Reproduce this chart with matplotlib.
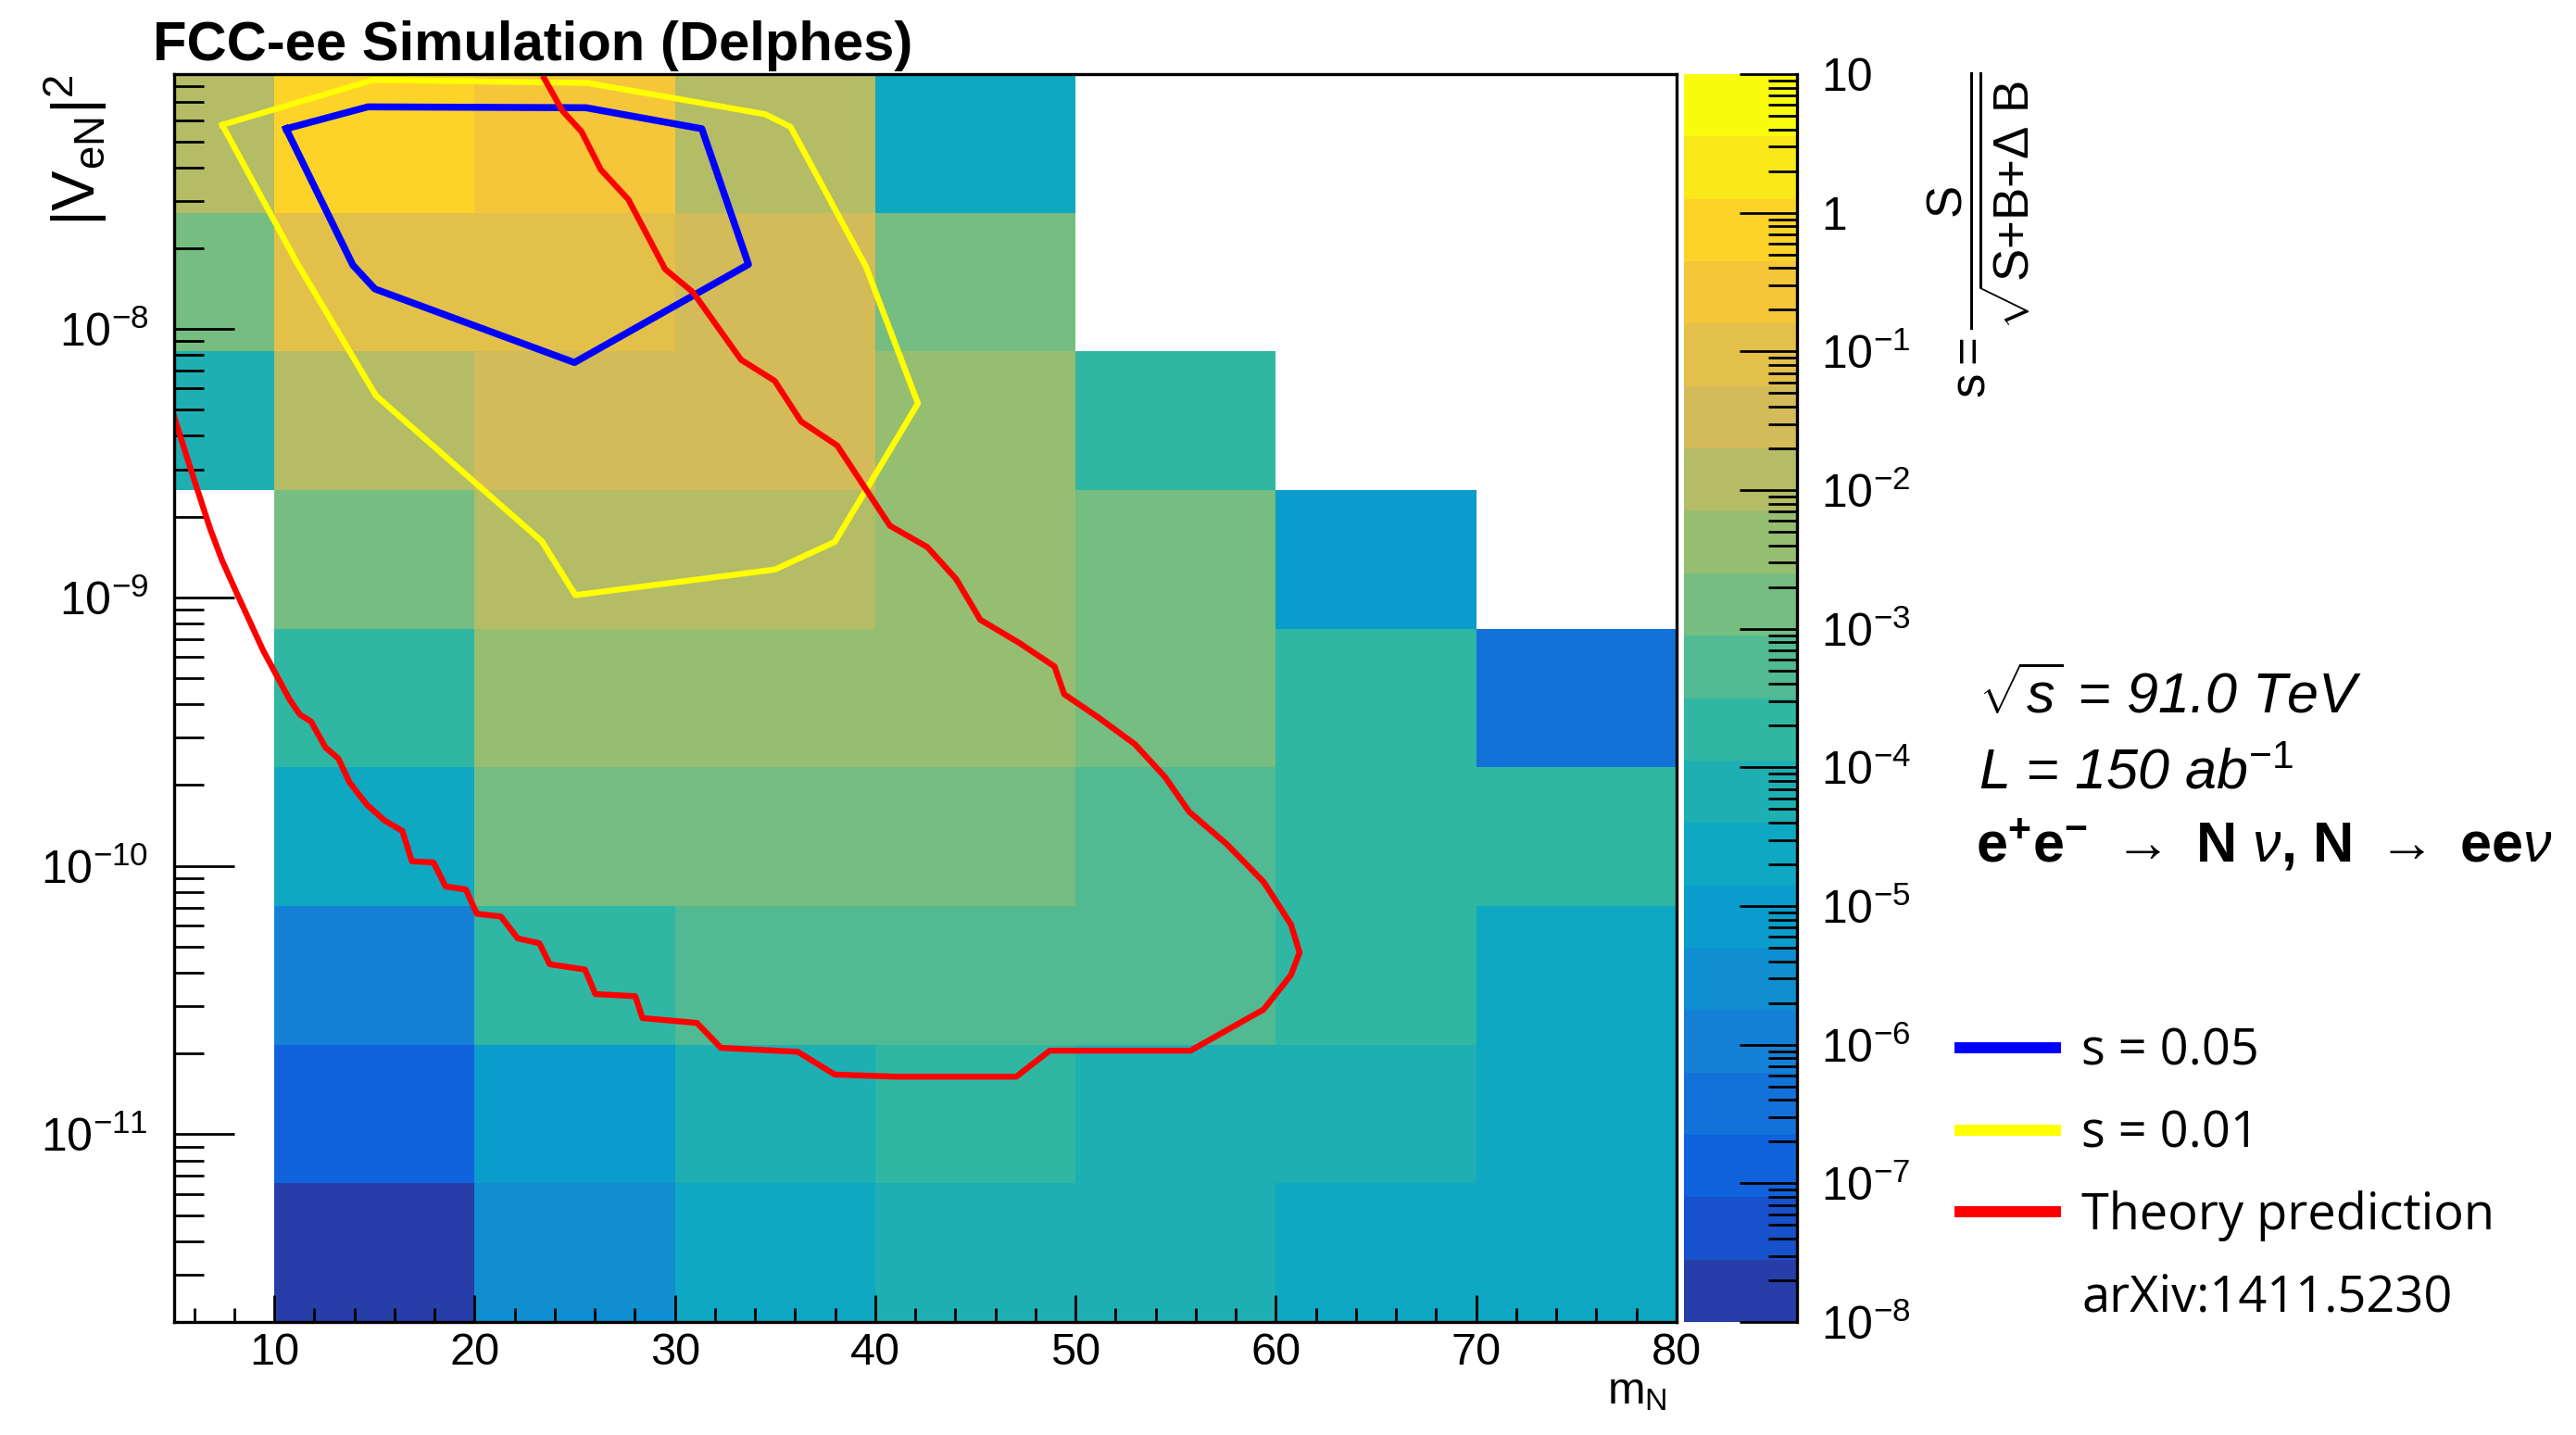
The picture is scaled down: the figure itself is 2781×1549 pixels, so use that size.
import matplotlib.pyplot as plt
import numpy as np
from matplotlib.colors import LinearSegmentedColormap, ListedColormap, LogNorm
from matplotlib.lines import Line2D
from matplotlib.ticker import FuncFormatter, NullFormatter

# Mass bins (GeV) and the |V_eN|^2 binning
mass_edges = [5, 10, 20, 30, 40, 50, 60, 70, 80]
v2_min, v2_max = 2e-12, 8.9e-8
n_v2_bins = 9

# Significance per bin, first row = highest |V_eN|^2 bin, nan = empty bin
significance = [
    [1.2e-2, 0.75,   0.27,   1.2e-2, 2.4e-5, np.nan, np.nan, np.nan],
    [1.5e-3, 9.4e-2, 9.4e-2, 3.3e-2, 1.5e-3, np.nan, np.nan, np.nan],
    [6.7e-5, 1.2e-2, 3.3e-2, 3.3e-2, 4.2e-3, 1.9e-4, np.nan, np.nan],
    [np.nan, 1.5e-3, 1.2e-2, 1.2e-2, 4.2e-3, 1.5e-3, 8.4e-6, np.nan],
    [np.nan, 1.9e-4, 4.2e-3, 4.2e-3, 4.2e-3, 1.5e-3, 1.9e-4, 3.8e-7],
    [np.nan, 2.4e-5, 1.5e-3, 1.5e-3, 1.5e-3, 5.3e-4, 1.9e-4, 1.9e-4],
    [np.nan, 1.1e-6, 1.9e-4, 5.3e-4, 5.3e-4, 5.3e-4, 1.9e-4, 2.4e-5],
    [np.nan, 1.3e-7, 8.4e-6, 6.7e-5, 1.9e-4, 6.7e-5, 6.7e-5, 2.4e-5],
    [np.nan, 1.7e-8, 3.0e-6, 2.4e-5, 6.7e-5, 6.7e-5, 2.4e-5, 2.4e-5],
]

# s = 0.05 contour
blue_mass = [10.59, 14.67, 25.56, 31.34, 33.67, 24.98, 15.02, 13.92, 10.59]
blue_v2 = [5.57e-8, 6.72e-8, 6.67e-8, 5.57e-8, 1.74e-8, 7.50e-9, 1.41e-8, 1.73e-8, 5.57e-8]

# s = 0.01 contour
yellow_mass = [7.40, 14.95, 25.63, 34.50, 35.77, 39.53, 42.13, 37.98, 34.98,
               25.03, 23.35, 15.07, 11.12, 7.40]
yellow_v2 = [5.76e-8, 8.47e-8, 8.25e-8, 6.31e-8, 5.66e-8, 1.71e-8, 5.28e-9, 1.61e-9,
             1.27e-9, 1.02e-9, 1.62e-9, 5.65e-9, 1.77e-8, 5.76e-8]

# theory prediction, arXiv:1411.5230
theory_mass = [5.00, 5.96, 6.80, 7.40, 8.12, 9.44, 10.76, 11.28, 11.83, 12.56, 13.20,
               13.75, 14.59, 15.48, 16.39, 16.87, 17.95, 18.55, 19.56, 20.11, 21.31,
               22.15, 23.23, 23.75, 25.51, 26.03, 28.02, 28.38, 31.10, 32.29, 36.13,
               37.98, 40.98, 47.04, 48.71, 55.74, 57.66, 59.39, 60.75, 61.18, 60.75,
               59.39, 57.52, 55.67, 54.47, 52.96, 51.12, 49.43, 48.95, 47.16, 45.24,
               44.04, 42.60, 40.73, 38.10, 36.30, 34.98, 33.30, 30.90, 29.51, 27.67,
               26.30, 25.34, 24.38, 23.47]
theory_v2 = [4.71e-9, 2.80e-9, 1.80e-9, 1.37e-9, 1.04e-9, 6.35e-10, 4.17e-10, 3.66e-10,
             3.45e-10, 2.76e-10, 2.51e-10, 2.05e-10, 1.70e-10, 1.48e-10, 1.35e-10,
             1.04e-10, 1.03e-10, 8.38e-11, 8.17e-11, 6.63e-11, 6.48e-11, 5.37e-11,
             5.15e-11, 4.30e-11, 4.11e-11, 3.33e-11, 3.27e-11, 2.71e-11, 2.60e-11,
             2.10e-11, 2.03e-11, 1.67e-11, 1.64e-11, 1.64e-11, 2.05e-11, 2.05e-11,
             2.47e-11, 2.92e-11, 3.92e-11, 4.76e-11, 6.05e-11, 8.71e-11, 1.21e-10,
             1.59e-10, 2.14e-10, 2.84e-10, 3.58e-10, 4.36e-10, 5.53e-10, 6.79e-10,
             8.26e-10, 1.17e-9, 1.54e-9, 1.85e-9, 3.68e-9, 4.52e-9, 6.41e-9, 7.68e-9,
             1.37e-8, 1.67e-8, 3.04e-8, 3.92e-8, 5.43e-8, 6.50e-8, 8.59e-8]

legend_labels = ['s = 0.05', 's = 0.01', 'Theory prediction', 'arXiv:1411.5230']

plt.rcParams['font.family'] = ['Liberation Sans', 'DejaVu Sans']
plt.rcParams['mathtext.fontset'] = 'custom'
plt.rcParams['mathtext.rm'] = 'Liberation Sans'
plt.rcParams['mathtext.it'] = 'Liberation Sans:italic'
plt.rcParams['mathtext.bf'] = 'Liberation Sans:bold'

W, H = 2781, 1549


def fx(px):
    return px / W


def fy(py):
    return 1 - py / H


def log_ticks(lo, hi):
    # decade and 2..9 sub-decade ticks that fall inside [lo, hi]
    decades = np.arange(np.floor(np.log10(lo)), np.ceil(np.log10(hi)) + 1)
    inside = lambda v: lo * (1 - 1e-9) <= v <= hi * (1 + 1e-9)
    major = [10.0 ** d for d in decades if inside(10.0 ** d)]
    minor = [m * 10.0 ** d for d in decades for m in range(2, 10) if inside(m * 10.0 ** d)]
    return major, minor


def decade_label(v, pos):
    e = int(round(np.log10(v)))
    if e == 0:
        return '1'
    if e == 1:
        return '10'
    return r'$\mathregular{10^{%d}}$' % e


# ROOT "bird" palette, cut into 20 levels over the z range
bird_stops = [0.0, 0.125, 0.25, 0.375, 0.5, 0.625, 0.75, 0.875, 1.0]
bird_red = [0.2082, 0.0592, 0.0780, 0.0232, 0.1802, 0.5301, 0.8186, 0.9956, 0.9764]
bird_green = [0.1664, 0.3599, 0.5041, 0.6419, 0.7178, 0.7492, 0.7328, 0.7862, 0.9832]
bird_blue = [0.5293, 0.8684, 0.8385, 0.7914, 0.6425, 0.4662, 0.3499, 0.1968, 0.0539]
bird = LinearSegmentedColormap.from_list(
    'bird', list(zip(bird_stops, zip(bird_red, bird_green, bird_blue))))
n_levels = 20
level_cmap = ListedColormap([bird((k + 1) / n_levels) for k in range(n_levels)])
z_min, z_max = 1e-8, 10
z_norm = LogNorm(vmin=z_min, vmax=z_max)

fig = plt.figure(figsize=(W / 100, H / 100), dpi=100)
ax = fig.add_axes([fx(188), fy(1427), fx(1810) - fx(188), fy(80) - fy(1427)])
cax = fig.add_axes([fx(1818), fy(1427), fx(1940) - fx(1818), fy(80) - fy(1427)])

# 2D significance map
v2_edges = np.logspace(np.log10(v2_min), np.log10(v2_max), n_v2_bins + 1)
z = np.ma.masked_invalid(np.array(significance)[::-1])
mesh = ax.pcolormesh(mass_edges, v2_edges, z, cmap=level_cmap, norm=z_norm,
                     shading='flat', antialiased=False, linewidth=0)

# contours and theory curve
blue_line, = ax.plot(blue_mass, blue_v2, color='#0000ff', lw=5.4)
yellow_line, = ax.plot(yellow_mass, yellow_v2, color='#ffff00', lw=4.6)
red_line, = ax.plot(theory_mass, theory_v2, color='#ff0000', lw=4.6)

ax.set_yscale('log')
ax.set_xlim(mass_edges[0], mass_edges[-1])
ax.set_ylim(v2_min, v2_max)
ax.set_xticks(np.arange(10, mass_edges[-1] + 1, 10))
ax.set_xticks(np.arange(6, mass_edges[-1], 2), minor=True)
y_major, y_minor = log_ticks(v2_min, v2_max)
ax.set_yticks(y_major)
ax.set_yticks(y_minor, minor=True)
ax.yaxis.set_minor_formatter(NullFormatter())
ax.tick_params(which='both', direction='in', top=False, right=False, width=2)
ax.tick_params(axis='y', which='major', length=47, pad=20, labelsize=36)
ax.tick_params(axis='y', which='minor', length=23)
ax.tick_params(axis='x', which='major', length=21, pad=8, labelsize=35)
ax.tick_params(axis='x', which='minor', length=11)
for sp in ax.spines.values():
    sp.set_linewidth(2.4)

# palette axis
cbar = fig.colorbar(mesh, cax=cax)
cbar.outline.set_visible(False)
cax.spines['right'].set_visible(True)
cax.spines['right'].set_linewidth(2.4)
z_major, z_minor = log_ticks(z_min, z_max)
cax.set_yticks(z_major)
cax.set_yticks(z_minor, minor=True)
cax.yaxis.set_major_formatter(FuncFormatter(decade_label))
cax.yaxis.set_minor_formatter(NullFormatter())
cax.tick_params(which='both', direction='in', right=True, left=False, width=2)
cax.tick_params(which='major', length=45, pad=19, labelsize=36)
cax.tick_params(which='minor', length=22)

# titles and labels
fig.text(fx(165), fy(65), 'FCC-ee Simulation (Delphes)', fontsize=43,
         fontweight='bold', va='baseline')
fig.text(fx(82), fy(80), r'$|\mathrm{V}_{\mathrm{eN}}|^{2}$', rotation=90,
         ha='center', va='top', fontsize=47)
fig.text(fx(1800), fy(1515), r'$\mathrm{m}_{\mathrm{N}}$', ha='right',
         va='baseline', fontsize=35)
fig.text(fx(2136), fy(78),
         r'$\mathrm{s} = \dfrac{\mathrm{S}}{\sqrt{\mathrm{S{+}B{+}\Delta\ B}}}$',
         rotation=90, ha='center', va='top', fontsize=38)

fig.text(fx(2136), fy(770), r'$\sqrt{s}$ = 91.0 TeV', style='italic',
         fontsize=44, va='baseline')
fig.text(fx(2136), fy(852), r'L = 150 ab$^{\mathit{-1}}$', style='italic',
         fontsize=44, va='baseline')
fig.text(fx(2133), fy(930),
         r'$\mathbf{e^{+}e^{-}}\ \rightarrow\ \mathbf{N}\ \nu\mathbf{,}\ '
         r'\mathbf{N}\ \rightarrow\ \mathbf{ee}\nu$',
         fontsize=44, va='baseline')

leg = fig.legend([blue_line, yellow_line, red_line, Line2D([], [], color='none')],
                 legend_labels, loc='upper left',
                 bbox_to_anchor=(fx(2116), fy(1108)), frameon=False,
                 prop={'family': 'Open Sans', 'size': 39},
                 handlelength=1.9, handletextpad=0.52, labelspacing=0.62,
                 borderpad=0, borderaxespad=0)
for line in leg.get_lines():
    line.set_linewidth(8.6)

fig.savefig('out.png', dpi=100)
